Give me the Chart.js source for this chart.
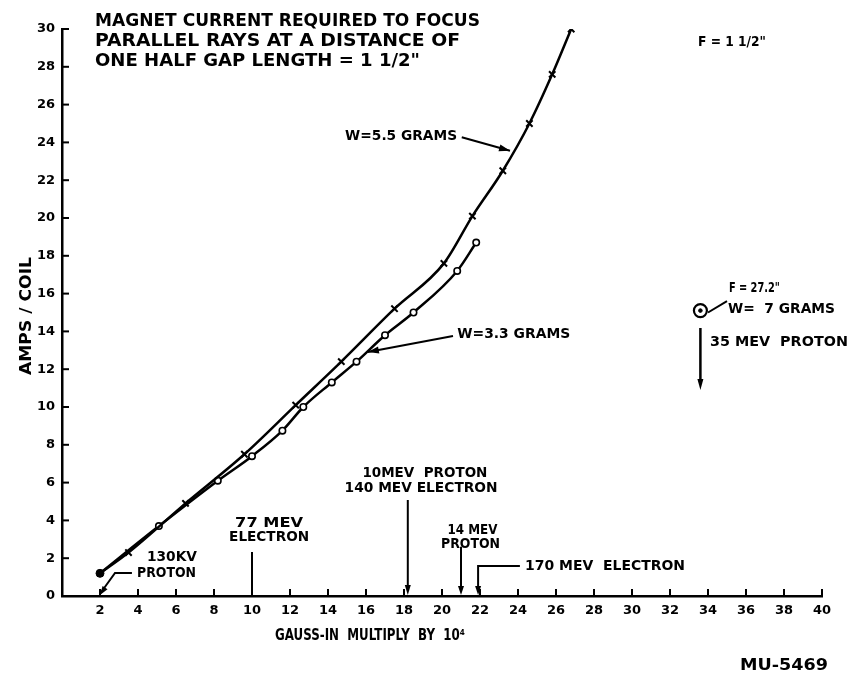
<!DOCTYPE html>
<html><head><meta charset="utf-8">
<script src="https://cdn.jsdelivr.net/npm/chart.js@4.4.1/dist/chart.umd.min.js"></script>
<style>html,body{margin:0;padding:0;background:#fff}#wrap{width:850px;height:680px}</style>
</head><body><div id="wrap"><canvas id="c" width="850" height="680"></canvas></div>
<script>
// ---- data ----
const gauss55 = [2, 3.5, 6.5, 9.6, 12.3, 14.7, 17.5, 20.1, 21.6, 23.2, 24.6, 25.8, 26.8];
const amps55  = [1.2, 2.3, 4.9, 7.5, 10.1, 12.4, 15.2, 17.6, 20.1, 22.5, 25.0, 27.6, 30.0];
const gauss33 = [2, 5.1, 8.2, 10.0, 11.6, 12.7, 14.2, 15.5, 17.0, 18.5, 20.8, 21.8];
const amps33  = [1.2, 3.7, 6.1, 7.4, 8.75, 10.0, 11.3, 12.4, 13.8, 15.0, 17.2, 18.7];
const startGauss = [2];
const startAmps  = [1.2];
const protonGauss = [33.6];
const protonAmps  = [15.1];
const xTickValues = [2,4,6,8,10,12,14,16,18,20,22,24,26,28,30,32,34,36,38,40];
const yTickValues = [0,2,4,6,8,10,12,14,16,18,20,22,24,26,28,30];
// energy markers on the axis (gauss values)
const markerGauss = { kv130: 2.0, mev77: 10.0, mev10: 18.2, mev14: 21.0, mev170: 21.9 };

const pts = (xs, ys) => xs.map((x, i) => ({x, y: ys[i]}));
const FONT = '"DejaVu Sans", "Liberation Sans", sans-serif';

function fitText(ctx, text, x, y, w, size, align) {
  ctx.save();
  ctx.font = 'bold ' + size + 'px ' + FONT;
  const m = ctx.measureText(text).width;
  const s = w / m;
  ctx.translate(x, y);
  ctx.scale(s, 1);
  ctx.textAlign = align || 'left';
  ctx.textBaseline = 'middle';
  ctx.fillStyle = '#000';
  ctx.fillText(text, 0, 0);
  ctx.restore();
}
function line(ctx, pts, w) {
  ctx.save(); ctx.strokeStyle = '#000'; ctx.lineWidth = w || 2;
  ctx.beginPath(); ctx.moveTo(pts[0][0], pts[0][1]);
  for (let i = 1; i < pts.length; i++) ctx.lineTo(pts[i][0], pts[i][1]);
  ctx.stroke(); ctx.restore();
}
function arrowHead(ctx, from, to, len, half) {
  const a = Math.atan2(to[1] - from[1], to[0] - from[0]);
  ctx.save(); ctx.fillStyle = '#000';
  ctx.beginPath();
  ctx.moveTo(to[0], to[1]);
  ctx.lineTo(to[0] - len*Math.cos(a) + half*Math.sin(a), to[1] - len*Math.sin(a) - half*Math.cos(a));
  ctx.lineTo(to[0] - len*Math.cos(a) - half*Math.sin(a), to[1] - len*Math.sin(a) + half*Math.cos(a));
  ctx.closePath(); ctx.fill(); ctx.restore();
}

const decor = {
  id: 'decor',
  afterDraw(chart) {
    const {ctx, scales: {x, y}, chartArea: ca} = chart;
    const X = v => x.getPixelForValue(v), Y = v => y.getPixelForValue(v);
    const P = (a, b) => [X(a), Y(b)];
    // inward tick marks
    ctx.save(); ctx.strokeStyle = '#000'; ctx.lineWidth = 2;
    xTickValues.forEach(v => { ctx.beginPath(); ctx.moveTo(X(v), ca.bottom); ctx.lineTo(X(v), ca.bottom - 7); ctx.stroke(); });
    yTickValues.forEach(v => { ctx.beginPath(); ctx.moveTo(ca.left, Y(v)); ctx.lineTo(ca.left + 7, Y(v)); ctx.stroke(); });
    ctx.restore();

    // title block
    fitText(ctx, 'MAGNET CURRENT REQUIRED TO FOCUS', 95, 22, 385, 17);
    fitText(ctx, 'PARALLEL RAYS AT A DISTANCE OF', 95, 42, 365, 17);
    fitText(ctx, 'ONE HALF GAP LENGTH = 1 1/2"', 95, 62, 325, 17);
    fitText(ctx, 'F = 1 1/2"', 698, 42, 68, 14);

    // axis titles
    ctx.save(); ctx.translate(27, 316); ctx.rotate(-Math.PI/2);
    fitText(ctx, 'AMPS / COIL', 0, 0, 118, 15, 'center'); ctx.restore();
    fitText(ctx, 'GAUSS-IN  MULTIPLY  BY  10\u2074', 370, 636, 190, 15, 'center');
    fitText(ctx, 'MU-5469', 828, 666, 88, 16, 'right');

    // W=5.5 GRAMS
    fitText(ctx, 'W=5.5 GRAMS', X(14.9), Y(24.3), 112, 14);
    line(ctx, [P(21.04, 24.27), P(23.58, 23.56)], 2);
    arrowHead(ctx, P(21.04, 24.27), P(23.58, 23.56), 11, 3.5);
    // W=3.3 GRAMS
    fitText(ctx, 'W=3.3 GRAMS', X(20.8), Y(13.86), 113, 14);
    line(ctx, [P(20.58, 13.76), P(16.1, 12.91)], 2);
    arrowHead(ctx, P(20.58, 13.76), P(16.1, 12.91), 11, 3.5);

    // 130 KV proton
    fitText(ctx, '130KV', X(4.47), Y(2.06), 50, 14);
    fitText(ctx, 'PROTON', X(3.95), Y(1.22), 59, 14);
    line(ctx, [P(3.68, 1.22), P(2.79, 1.22), P(markerGauss.kv130, 0.12)], 2);
    arrowHead(ctx, P(2.79, 1.22), P(markerGauss.kv130, 0.05), 9, 3);
    // 77 MEV electron
    fitText(ctx, '77 MEV', X(10.9), Y(3.86), 68, 14, 'center');
    fitText(ctx, 'ELECTRON', X(10.9), Y(3.12), 80, 14, 'center');
    line(ctx, [P(markerGauss.mev77, 2.33), P(markerGauss.mev77, 0)], 2);
    // 10 MEV proton / 140 MEV electron
    fitText(ctx, '10MEV  PROTON', X(19.1), Y(6.51), 125, 14, 'center');
    fitText(ctx, '140 MEV ELECTRON', X(18.9), Y(5.71), 153, 14, 'center');
    line(ctx, [P(markerGauss.mev10, 5.08), P(markerGauss.mev10, 0.3)], 2);
    arrowHead(ctx, P(markerGauss.mev10, 5.08), P(markerGauss.mev10, 0.05), 10, 3);
    // 14 MEV proton
    fitText(ctx, '14 MEV', X(21.6), Y(3.49), 50, 14, 'center');
    fitText(ctx, 'PROTON', X(21.5), Y(2.75), 59, 14, 'center');
    line(ctx, [P(markerGauss.mev14, 2.6), P(markerGauss.mev14, 0.3)], 2);
    arrowHead(ctx, P(markerGauss.mev14, 2.6), P(markerGauss.mev14, 0.05), 9, 3);
    // 170 MEV electron
    fitText(ctx, '170 MEV  ELECTRON', X(24.37), Y(1.59), 160, 14);
    line(ctx, [P(24.1, 1.59), P(markerGauss.mev170, 1.59), P(markerGauss.mev170, 0.3)], 2);
    arrowHead(ctx, P(markerGauss.mev170, 1.59), P(markerGauss.mev170, 0.05), 9, 3);

    // 35 MEV proton point
    line(ctx, [P(34.0, 15.0), P(35.0, 15.6)], 2);
    fitText(ctx, 'F = 27.2"', X(35.1), Y(16.3), 51, 14);
    fitText(ctx, 'W=  7 GRAMS', X(35.05), Y(15.19), 107, 14);
    fitText(ctx, '35 MEV  PROTON', X(34.1), Y(13.44), 138, 14);
    line(ctx, [P(33.6, 14.18), P(33.6, 11.4)], 2.5);
    arrowHead(ctx, P(33.6, 14.18), P(33.6, 10.9), 11, 3);
  }
};

new Chart(document.getElementById('c'), {
  type: 'scatter',
  data: {
    datasets: [
      { data: pts(startGauss, startAmps), pointStyle: 'circle', pointRadius: 4, pointBackgroundColor: '#000', pointBorderColor: '#000', showLine: false },
      { data: pts(protonGauss, protonAmps), pointStyle: 'circle', pointRadius: 1.8, pointBackgroundColor: '#000', pointBorderColor: '#000', showLine: false },
      { data: pts(protonGauss, protonAmps), pointStyle: 'circle', pointRadius: 6.5, pointBorderWidth: 2.2, pointBackgroundColor: '#fff', pointBorderColor: '#000', showLine: false },
      { label: 'W=5.5 GRAMS', data: pts(gauss55, amps55), showLine: true, borderColor: '#000', borderWidth: 2.5,
        cubicInterpolationMode: 'monotone', pointStyle: 'crossRot', pointRadius: c => c.dataIndex === 0 ? 0 : 4.5,
        pointBorderWidth: 2, pointBorderColor: '#000', pointBackgroundColor: '#000' },
      { label: 'W=3.3 GRAMS', data: pts(gauss33, amps33), showLine: true, borderColor: '#000', borderWidth: 2.5,
        cubicInterpolationMode: 'monotone', pointStyle: 'circle', pointRadius: c => c.dataIndex === 0 ? 0 : 3.2,
        pointBorderWidth: 1.6, pointBorderColor: '#000', pointBackgroundColor: '#fff' }
    ]
  },
  options: {
    responsive: false, animation: false, devicePixelRatio: 1,
    layout: { padding: { left: 0, right: 28, top: 29, bottom: 0 } },
    plugins: { legend: { display: false }, tooltip: { enabled: false } },
    scales: {
      x: {
        type: 'linear', min: 0, max: 40,
        afterBuildTicks: s => { s.ticks = xTickValues.map(v => ({value: v})); },
        afterFit: s => { s.height = 84; },
        grid: { display: false, drawTicks: false },
        border: { display: true, color: '#000', width: 2.5 },
        ticks: { color: '#000', padding: 7, maxRotation: 0, autoSkip: false, font: { family: FONT, weight: 'bold', size: 13 } }
      },
      y: {
        type: 'linear', min: 0, max: 30,
        afterBuildTicks: s => { s.ticks = yTickValues.map(v => ({value: v})); },
        afterFit: s => { s.width = 62; },
        grid: { display: false, drawTicks: false },
        border: { display: true, color: '#000', width: 2.5 },
        ticks: { color: '#000', padding: 7, autoSkip: false, font: { family: FONT, weight: 'bold', size: 13 } }
      }
    }
  },
  plugins: [decor]
});
</script></body></html>
